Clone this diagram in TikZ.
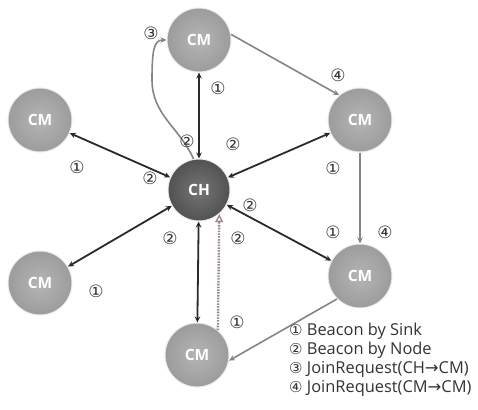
\documentclass[tikz,border=0pt]{standalone}
\usepackage{fontspec}
\setmainfont{Open Sans}
\newfontfamily\symf{DejaVu Sans}
\usetikzlibrary{arrows.meta,shapes.geometric}
\definecolor{cmfill}{HTML}{9C9C9C}
\definecolor{chfill}{HTML}{525252}
\definecolor{darkedge}{HTML}{2A2A2A}
\definecolor{grayedge}{HTML}{858585}
\definecolor{dotedge}{HTML}{9A8A8A}
\definecolor{txt}{HTML}{333333}
\begin{document}
\begin{tikzpicture}[x=1pt,y=-1pt,
  cmnode/.style={circle,minimum size=64pt,inner sep=0pt,shading=radial,inner color=cmfill!75,outer color=cmfill,draw=white!85!gray,line width=1pt,text=white,font=\bfseries\fontsize{15.5}{17}\selectfont},
  chnode/.style={cmnode,inner color=chfill!80,outer color=chfill,minimum size=62pt},
  dbl/.style={darkedge,line width=1.8pt,{Stealth[length=6pt,width=5.5pt]}-{Stealth[length=6pt,width=5.5pt]}},
  gar/.style={grayedge,line width=1.6pt,-{Stealth[length=6pt,width=5.5pt]}},
  num/.style={inner sep=0pt,text=txt,font=\symf\fontsize{17}{17}\selectfont},
  leg/.style={anchor=west,inner sep=0pt,text=txt,font=\fontsize{16.4}{18}\selectfont}
]
\useasboundingbox[fill=white] (0,0) rectangle (478,409);
\node[chnode] (ch) at (199,190) {CH};
\node[cmnode] (top) at (199,40) {CM};
\node[cmnode] (left) at (40,120) {CM};
\node[cmnode] (right) at (360,120) {CM};
\node[cmnode] (ll) at (40,283) {CM};
\node[cmnode] (lr) at (360,276) {CM};
\node[cmnode] (bot) at (197,355) {CM};
% double arrows
\draw[dbl] (ch) -- (top);
\draw[dbl] (ch) -- (left);
\draw[dbl] (ch) -- (right);
\draw[dbl] (ch) -- (ll);
\draw[dbl] (ch) -- (lr);
\draw[dbl] (ch) -- (bot);
% gray arrows
\draw[gar] (ch.100) .. controls (180,128) and (152,115) .. (152,80) .. controls (152,50) and (154,40) .. (top.west);
\draw[gar] (top.10) -- (right.130);
\draw[gar] (right) -- (lr);
\draw[gar] (lr.-135) -- (bot.-10);
\draw[dotedge,line width=2.4pt,dash pattern=on 1.6pt off 1.2pt,-{Triangle[length=8pt,width=8pt,open,line width=1.4pt]}] (bot.50) -- (ch.-50);
% numbers
\node[num] (n3a) at (151,33) {③};
\node[num] (n1a) at (218,88) {①};
\node[num] (n4a) at (338,75) {④};
\node[num] (n2a) at (187,141) {②};
\node[num] (n2b) at (233,144) {②};
\node[num] (n1b) at (77,167) {①};
\node[num] (n2c) at (150,178) {②};
\node[num] (n1c) at (333,168) {①};
\node[num] (n2d) at (250,205) {②};
\node[num] (n2e) at (170,238) {②};
\node[num] (n2f) at (238,238) {②};
\node[num] (n1d) at (333,232) {①};
\node[num] (n4b) at (385,232) {④};
\node[num] (n1e) at (96,291) {①};
\node[num] (n1f) at (237,322) {①};
% legend
\node[leg] (l1) at (289,331) {{\symf\fontsize{15}{17}\selectfont ①} Beacon by Sink};
\node[leg] (l2) at (289,350) {{\symf\fontsize{15}{17}\selectfont ②} Beacon by Node};
\node[leg] (l3) at (289,369) {{\symf\fontsize{15}{17}\selectfont ③} JoinRequest(CH{\symf →}CM)};
\node[leg] (l4) at (289,388) {{\symf\fontsize{15}{17}\selectfont ④} JoinRequest(CM{\symf →}CM)};
\end{tikzpicture}
\end{document}
